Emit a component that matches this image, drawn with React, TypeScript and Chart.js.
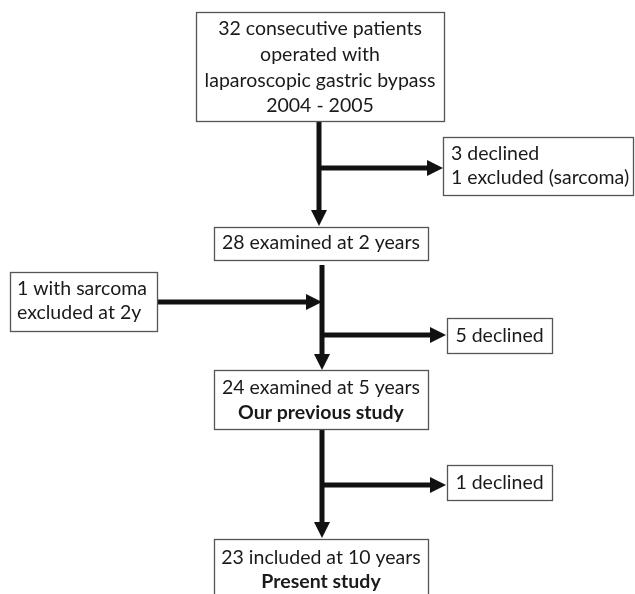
import React, { useEffect, useRef } from "react";
import { Chart, registerables } from "chart.js";

Chart.register(...registerables);

// ---- content ----
const stepTexts: string[][] = [
  ["32 consecutive patients", "operated with", "laparoscopic gastric bypass", "2004 - 2005"],
  ["28 examined at 2 years"],
  ["3 declined", "1 excluded (sarcoma)"],
  ["1 with sarcoma", "excluded at 2y"],
  ["5 declined"],
  ["24 examined at 5 years", "Our previous study"],
  ["1 declined"],
  ["23 included at 10 years", "Present study"],
];
const stepBold: boolean[][] = [
  [false, false, false, false],
  [false],
  [false, false],
  [false, false],
  [false],
  [false, true],
  [false],
  [false, true],
];
const stepAlign: ("center" | "left")[] = ["center", "center", "left", "left", "center", "center", "center", "center"];

// ---- layout in data units (x: 0..635, y: 0..594 top-down) ----
const boxRects: number[][] = [
  [196, 12, 444, 121],
  [214, 227, 428, 260],
  [443, 137, 633, 195],
  [10, 272, 157, 331],
  [447, 318, 552, 353],
  [214, 370, 428, 429],
  [447, 465, 552, 500],
  [214, 539, 428, 610],
];
const lineYs: number[][] = [
  [29, 55, 81, 106],
  [243],
  [154, 178],
  [289, 313],
  [336],
  [388, 413],
  [483],
  [558, 582],
];
const textLeftX: number[] = [0, 0, 451, 17, 0, 0, 0, 0];

// arrows: x1, y1, x2, y2 (tip)
const arrows: number[][] = [
  [319, 121, 319, 226],
  [319, 168, 443, 168],
  [322, 265, 322, 370],
  [157, 302, 322, 302],
  [322, 335, 446, 335],
  [322, 429, 322, 538],
  [322, 485, 446, 485],
];

const FONT = "Lato, 'Noto Sans', sans-serif";
const FONT_SIZE = 19.5;

const flowPlugin = {
  id: "flow",
  afterDraw(chart: any) {
    const ctx: CanvasRenderingContext2D = chart.ctx;
    const xs = chart.scales.x;
    const ys = chart.scales.y;
    const px = (v: number) => xs.getPixelForValue(v);
    const py = (v: number) => ys.getPixelForValue(v);
    ctx.save();
    // arrows
    ctx.strokeStyle = "#111";
    ctx.fillStyle = "#111";
    ctx.lineWidth = 5;
    ctx.lineCap = "butt";
    const headLen = 16;
    const headHalf = 8;
    arrows.forEach(([x1, y1, x2, y2]) => {
      const X1 = px(x1), Y1 = py(y1), X2 = px(x2), Y2 = py(y2);
      const dx = X2 - X1, dy = Y2 - Y1;
      const len = Math.hypot(dx, dy);
      const ux = dx / len, uy = dy / len;
      const bx = X2 - ux * headLen, by = Y2 - uy * headLen;
      ctx.beginPath();
      ctx.moveTo(X1, Y1);
      ctx.lineTo(bx + ux * 1, by + uy * 1);
      ctx.stroke();
      ctx.beginPath();
      ctx.moveTo(X2, Y2);
      ctx.lineTo(bx - uy * headHalf, by + ux * headHalf);
      ctx.lineTo(bx + uy * headHalf, by - ux * headHalf);
      ctx.closePath();
      ctx.fill();
    });
    // boxes
    boxRects.forEach((r, i) => {
      const L = px(r[0]), T = py(r[1]), R = px(r[2]), B = py(r[3]);
      ctx.fillStyle = "#fff";
      ctx.fillRect(L, T, R - L, B - T);
      ctx.strokeStyle = "#555";
      ctx.lineWidth = 1.3;
      ctx.strokeRect(Math.round(L) + 0.5, Math.round(T) + 0.5, Math.round(R - L), Math.round(B - T));
      ctx.fillStyle = "#1a1a1a";
      ctx.textBaseline = "middle";
      stepTexts[i].forEach((t, j) => {
        ctx.font = `${stepBold[i][j] ? "bold " : ""}${FONT_SIZE}px ${FONT}`;
        const y = py(lineYs[i][j]);
        if (stepAlign[i] === "left") {
          ctx.textAlign = "left";
          ctx.fillText(t, px(textLeftX[i]), y);
        } else {
          ctx.textAlign = "center";
          ctx.fillText(t, (L + R) / 2, y);
        }
      });
    });
    ctx.restore();
  },
};

export default function App() {
  const ref = useRef<HTMLCanvasElement | null>(null);
  useEffect(() => {
    document.body.style.margin = "0";
    const canvas = ref.current;
    if (!canvas) return;
    const chart = new Chart(canvas, {
      type: "scatter",
      data: { datasets: [{ data: [], pointRadius: 0 }] },
      options: {
        animation: false,
        responsive: false,
        maintainAspectRatio: false,
        layout: { padding: 0 },
        plugins: { legend: { display: false }, tooltip: { enabled: false } },
        scales: {
          x: { type: "linear", min: 0, max: 635, display: false },
          y: { type: "linear", min: 0, max: 594, reverse: true, display: false },
        },
      },
      plugins: [flowPlugin],
    });
    return () => chart.destroy();
  }, []);
  return (
    <div style={{ width: 635, height: 594, background: "#fff" }}>
      <canvas ref={ref} width={635} height={594} style={{ display: "block" }} />
    </div>
  );
}
